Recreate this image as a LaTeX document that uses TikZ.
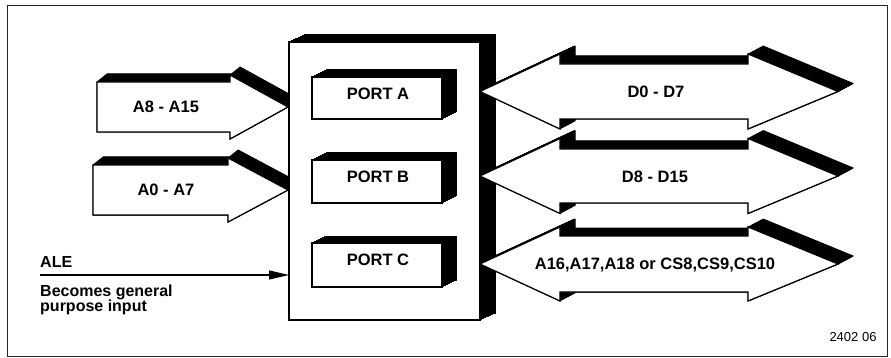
\documentclass[tikz,border=0pt]{standalone}
\usepackage{fontspec}
\setmainfont{Liberation Sans}
\usetikzlibrary{arrows.meta}

% A solid block: the outline #3 swept by the offset (#1,#2) in black,
% then the white front face on top.
\newcommand\solidblock[3]{%
  \foreach \k in {0,...,16}{%
    \filldraw[black,line width=1pt,line join=round,
      shift={({\k*#1/16},{\k*#2/16})}] #3;}
  \filldraw[face] #3;}

\begin{document}
\begin{tikzpicture}[x=1pt,y=-1pt,
  face/.style={fill=white,draw=black,line width=1.2pt,line join=miter},
  frame/.style={draw=black!85,line width=0.9pt},
  lbl/.style={font=\fontsize{16.5}{18}\selectfont\bfseries,inner sep=0pt},
  side/.style={font=\fontsize{16}{17}\selectfont\bfseries,inner sep=0pt,anchor=base west},
  code/.style={font=\fontsize{13}{14}\selectfont,inner sep=0pt},
  signal/.style={line width=1.1pt,-{Triangle[length=20pt,width=9pt]}}]

\useasboundingbox (0,0) rectangle (891,358);
\draw[frame] (7,5) rectangle (887,356);

% address inputs on the left
\solidblock{10}{-8}{(97,82) -- (230,82) -- (230,75) -- (288,107) -- (230,139) -- (230,132) -- (97,132) -- cycle}
\solidblock{10}{-8}{(93,165) -- (228,165) -- (228,158) -- (288,190) -- (228,222) -- (228,215) -- (93,215) -- cycle}

% the chip with its three ports
\solidblock{15}{-7}{(289,42) rectangle (480,320)}
\solidblock{14}{-7}{(312,77) rectangle (442,119)}
\solidblock{14}{-7}{(312,160) rectangle (442,203)}
\solidblock{14}{-7}{(312,243) rectangle (442,287)}

% bidirectional buses on the right
\solidblock{15}{-8}{(480,91.5) -- (560,54) -- (560,64) -- (748,64) -- (748,54) -- (838,91.5) -- (748,129) -- (748,119) -- (560,119) -- (560,129) -- cycle}
\solidblock{15}{-8}{(480,176) -- (560,138.5) -- (560,149) -- (748,149) -- (748,138.5) -- (838,176) -- (748,213.5) -- (748,203) -- (560,203) -- (560,213.5) -- cycle}
\solidblock{15}{-8}{(480,264) -- (560,227) -- (560,236) -- (748,236) -- (748,227) -- (838,264) -- (748,301) -- (748,292) -- (560,292) -- (560,301) -- cycle}

% labels
\node[lbl] (hiaddr) at (166,107) {A8 - A15};
\node[lbl] (loaddr) at (166,190) {A0 - A7};
\node[lbl] (porta) at (378,94) {PORT A};
\node[lbl] (portb) at (378,177) {PORT B};
\node[lbl] (portc) at (378,260) {PORT C};
\node[lbl] (lodata) at (656,92) {D0 - D7};
\node[lbl] (hidata) at (655,177) {D8 - D15};
\node[lbl] (extaddr) at (655,265) {A16,A17,A18 or CS8,CS9,CS10};

% ALE input
\coordinate (alefrom) at (40,275);
\coordinate (aleto) at (289,275);
\draw[signal] (alefrom) -- (aleto);
\node[side] (ale) at (40,267) {ALE};
\node[side] (note1) at (40,296) {Becomes general};
\node[side] (note2) at (40,311) {purpose input};

\node[code] (figno) at (853,337) {2402 06};
\end{tikzpicture}
\end{document}
